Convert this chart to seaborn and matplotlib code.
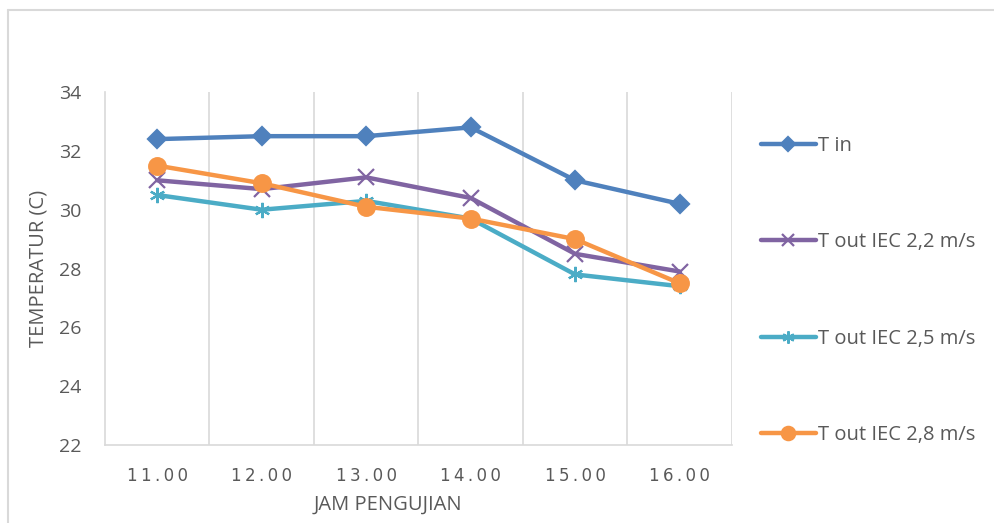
import pandas as pd
import matplotlib
matplotlib.use("Agg")
import matplotlib.pyplot as plt
import seaborn as sns
from matplotlib.lines import Line2D

jam = ["11.00", "12.00", "13.00", "14.00", "15.00", "16.00"]
t_in = [32.4, 32.5, 32.5, 32.8, 31.0, 30.2]
t_out_22 = [31.0, 30.7, 31.1, 30.4, 28.5, 27.9]
t_out_25 = [30.5, 30.0, 30.3, 29.7, 27.8, 27.4]
t_out_28 = [31.5, 30.9, 30.1, 29.7, 29.0, 27.5]

series = ["T in", "T out IEC 2,2 m/s", "T out IEC 2,5 m/s", "T out IEC 2,8 m/s"]
colors = ["#4F81BD", "#8064A2", "#4BACC6", "#F79646"]
markers = ["D", "x", (6, 2, 0), "o"]
msizes = [9.5, 11, 11, 12]

rows = []
for name, vals in zip(series, [t_in, t_out_22, t_out_25, t_out_28]):
    for i, (j, v) in enumerate(zip(jam, vals)):
        rows.append({"pos": i, "jam": j, "seri": name, "suhu": v})
df = pd.DataFrame(rows)

sns.set_style("white")
plt.rcParams["font.family"] = ["Open Sans", "DejaVu Sans"]
text_color = "#595959"
grid_color = "#D9D9D9"

fig = plt.figure(figsize=(9.95, 5.23), dpi=100)
ax = fig.add_axes([0.1055, 0.149, 0.630, 0.675])

for name, c, m, ms in zip(series, colors, markers, msizes):
    sub = df[df["seri"] == name]
    sns.lineplot(data=sub, x="pos", y="suhu", ax=ax, color=c, linewidth=3.2,
                 marker=m, markersize=ms, markeredgecolor=c,
                 markeredgewidth=1.6, label=name, legend=False)

ax.set_xlim(-0.5, len(jam) - 0.5)
ax.set_ylim(22, 34)
ax.set_yticks(range(22, 35, 2))
ax.set_xticks(range(len(jam)))
spaced = ["\u2009".join(list(j)) for j in jam]
ax.set_xticklabels(spaced, family=["DejaVu Sans"], fontsize=12, color=text_color)
ax.tick_params(axis="y", labelsize=14, labelcolor=text_color, length=0, pad=17)
ax.tick_params(axis="x", length=0, pad=16)
ax.set_xticks([i + 0.5 for i in range(len(jam))], minor=True)
ax.grid(False)
ax.xaxis.grid(True, which="minor", color=grid_color, linewidth=1.2)
ax.tick_params(axis="x", which="minor", length=0)

for side in ["top", "right"]:
    ax.spines[side].set_visible(False)
for side in ["left", "bottom"]:
    ax.spines[side].set_color(grid_color)
    ax.spines[side].set_linewidth(1.2)

ax.set_xlabel("JAM PENGUJIAN", fontsize=14.5, color=text_color, labelpad=4)
ax.xaxis.set_label_coords((388 - 105) / (732 - 105), -0.14)
ax.set_ylabel("TEMPERATUR (C)", fontsize=14.5, color=text_color)
ax.yaxis.set_label_coords(-56 / (732 - 105), 0.5)

handles = [Line2D([0], [0], color=c, linewidth=3.2, marker=m, markersize=ms * 0.8,
                  markeredgecolor=c, markeredgewidth=1.6)
           for c, m, ms in zip(colors, markers, msizes)]
leg = fig.legend(handles, series, loc="upper left", bbox_to_anchor=(0.757, 0.756),
                 frameon=False, fontsize=14.5, labelspacing=3.8, handlelength=2.7,
                 handletextpad=0.1, borderaxespad=0)
for t in leg.get_texts():
    t.set_color(text_color)

# chart area border (only top and left visible in the crop)
fig.add_artist(Line2D([8 / 995, 8 / 995], [0, 1 - 10 / 523], transform=fig.transFigure,
                      color=grid_color, linewidth=1.5))
fig.add_artist(Line2D([8 / 995, 1], [1 - 10 / 523, 1 - 10 / 523], transform=fig.transFigure,
                      color=grid_color, linewidth=1.5))

fig.savefig("out.png", dpi=100)
